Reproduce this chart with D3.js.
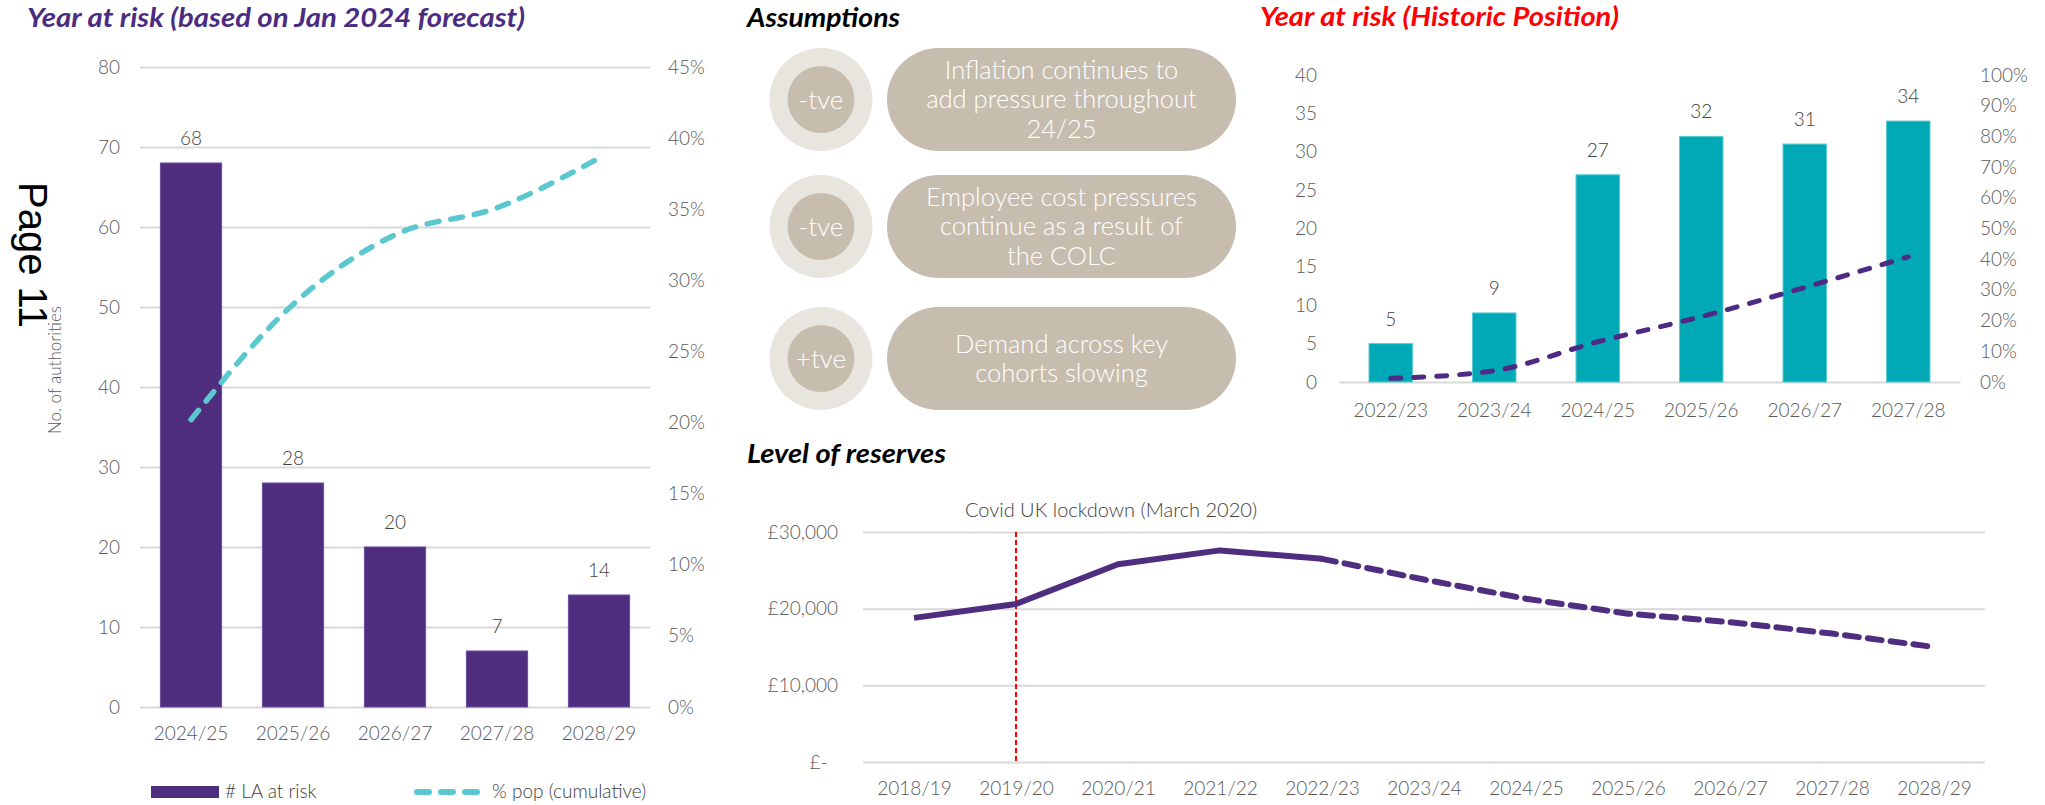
<!DOCTYPE html>
<html>
<head>
<meta charset="utf-8">
<script src="https://cdn.jsdelivr.net/npm/d3@7"></script>
<style>
  body { margin: 0; background: #fff; }
  text { font-family: Lato, "Open Sans", sans-serif; }
  .title { font-weight: 700; font-style: italic; font-size: 27px; }
  .tick text { font-size: 19px; fill: #595959; font-weight: 300; }
  .lbl { font-size: 19px; fill: #404040; font-weight: 300; }
</style>
</head>
<body>
<svg id="chart" width="2045" height="805"></svg>
<script>
// Year at risk (Jan 2024 forecast)
var years1 = ["2024/25", "2025/26", "2026/27", "2027/28", "2028/29"];
var laAtRisk = [68, 28, 20, 7, 14];
var popCumulative = [0.202, 0.283, 0.332, 0.351, 0.386];
var ticks1 = [0, 10, 20, 30, 40, 50, 60, 70, 80];
var ticks1r = [0, 0.05, 0.10, 0.15, 0.20, 0.25, 0.30, 0.35, 0.40, 0.45];

// Year at risk (historic position)
var years3 = ["2022/23", "2023/24", "2024/25", "2025/26", "2026/27", "2027/28"];
var histAtRisk = [5, 9, 27, 32, 31, 34];
var histPop = [0.012, 0.037, 0.131, 0.213, 0.308, 0.408];
var ticks3 = [0, 5, 10, 15, 20, 25, 30, 35, 40];
var ticks3r = [0, 0.1, 0.2, 0.3, 0.4, 0.5, 0.6, 0.7, 0.8, 0.9, 1];

// Level of reserves (£m)
var years4 = ["2018/19", "2019/20", "2020/21", "2021/22", "2022/23", "2023/24",
              "2024/25", "2025/26", "2026/27", "2027/28", "2028/29"];
var reservesActual = [18800, 20600, 25800, 27600, 26500];          // 2018/19 - 2022/23
var reservesForecast = [26500, 23800, 21300, 19350, 18250, 16750, 15000]; // 2022/23 - 2028/29
var ticks4 = [0, 10000, 20000, 30000];

// Assumptions
var assumptionSigns = ["-tve", "-tve", "+tve"];
var assumptionTexts = [
  ["Inflation continues to", "add pressure throughout", "24/25"],
  ["Employee cost pressures", "continue as a result of", "the COLC"],
  ["Demand across key", "cohorts slowing"]
];

var svg = d3.select("#chart");
var purple = "#4f2d7f", teal = "#00a9b5", lightTeal = "#5bc8d0";

function styleAxis(g) {
  g.select(".domain").remove();
  g.selectAll(".tick line").attr("stroke", "#d9d9d9").attr("stroke-width", 2);
}

function title(x, y, w, colour, txt) {
  svg.append("text").attr("class", "title").attr("x", x).attr("y", y)
    .attr("textLength", w).attr("lengthAdjust", "spacingAndGlyphs")
    .attr("fill", colour).text(txt);
}

// ---------- chart 1 ----------
var x1 = d3.scaleBand().domain(years1).range([140, 650]).paddingInner(0.4).paddingOuter(0.2);
var y1 = d3.scaleLinear().domain([0, 80]).range([707, 67]);
var y1r = d3.scaleLinear().domain([0, 0.45]).range([707, 67]);

title(27, 27, 498, "#4b2c83", "Year at risk (based on Jan 2024 forecast)");

svg.append("g").attr("transform", "translate(140,0)")
  .call(d3.axisLeft(y1).tickValues(ticks1).tickSize(-510).tickPadding(20))
  .call(styleAxis);
svg.append("g").attr("transform", "translate(650,0)")
  .call(d3.axisRight(y1r).tickValues(ticks1r).tickSize(0).tickPadding(18).tickFormat(d3.format(".0%")))
  .call(styleAxis);
svg.append("g").attr("transform", "translate(0,707)")
  .call(d3.axisBottom(x1).tickSize(0).tickPadding(20))
  .call(styleAxis);

svg.append("g").selectAll("rect").data(laAtRisk).join("rect")
  .attr("x", function (d, i) { return x1(years1[i]); })
  .attr("y", function (d) { return y1(d); })
  .attr("width", x1.bandwidth())
  .attr("height", function (d) { return y1(0) - y1(d); })
  .attr("fill", purple).attr("stroke", "#6a4d9a").attr("stroke-width", 1);

svg.append("g").selectAll("text").data(laAtRisk).join("text")
  .attr("class", "lbl").attr("text-anchor", "middle")
  .attr("x", function (d, i) { return x1(years1[i]) + x1.bandwidth() / 2; })
  .attr("y", function (d) { return y1(d) - 18; })
  .text(function (d) { return d; });

var line1 = d3.line()
  .x(function (d, i) { return x1(years1[i]) + x1.bandwidth() / 2; })
  .y(function (d) { return y1r(d); })
  .curve(d3.curveMonotoneX);
svg.append("path").attr("d", line1(popCumulative))
  .attr("fill", "none").attr("stroke", lightTeal).attr("stroke-width", 5.5)
  .attr("stroke-dasharray", "12,12").attr("stroke-linecap", "round");

// legend
svg.append("rect").attr("x", 151).attr("y", 786).attr("width", 68).attr("height", 12).attr("fill", purple);
svg.append("text").attr("class", "lbl").attr("x", 225).attr("y", 798).attr("fill", "#595959").text("# LA at risk");
svg.append("line").attr("x1", 417).attr("x2", 478).attr("y1", 792).attr("y2", 792)
  .attr("stroke", lightTeal).attr("stroke-width", 6).attr("stroke-linecap", "round").attr("stroke-dasharray", "12,12");
svg.append("text").attr("class", "lbl").attr("x", 492).attr("y", 798).attr("fill", "#595959").text("% pop (cumulative)");

// axis title + page marker
svg.append("text").attr("transform", "translate(61,370) rotate(-90)")
  .attr("text-anchor", "middle").style("font-size", "17px").attr("fill", "#595959")
  .style("font-weight", 300).text("No. of authorities");
svg.append("text").attr("transform", "translate(19,182) rotate(90)")
  .style("font-family", "'Liberation Sans', Arial, sans-serif").style("font-size", "40px")
  .attr("fill", "#000").text("Page 11");

// ---------- assumptions ----------
title(747, 27, 153, "#000", "Assumptions");
var rowY = [99.5, 226.5, 358.5];
var rows = svg.append("g").selectAll("g").data(assumptionSigns).join("g")
  .attr("transform", function (d, i) { return "translate(0," + rowY[i] + ")"; });
rows.append("circle").attr("cx", 821).attr("cy", 0).attr("r", 51.5).attr("fill", "#e8e5df");
rows.append("circle").attr("cx", 821).attr("cy", 0).attr("r", 33.5).attr("fill", "#c7bdae");
rows.append("text").attr("x", 821).attr("y", 0).attr("dy", "0.35em").attr("text-anchor", "middle")
  .style("font-size", "26px").style("font-weight", 300).attr("fill", "#fff").text(function (d) { return d; });
rows.append("rect").attr("x", 887).attr("y", -51.5).attr("width", 349).attr("height", 103)
  .attr("rx", 51.5).attr("fill", "#c7bdae");
rows.append("text").attr("text-anchor", "middle").style("font-size", "25.5px").style("font-weight", 300)
  .attr("fill", "#fff")
  .selectAll("tspan").data(function (d, i) { return assumptionTexts[i]; }).join("tspan")
  .attr("x", 1061.5)
  .attr("y", function (d, j, nodes) { return (j - (nodes.length - 1) / 2) * 29.5; })
  .attr("dy", "0.35em")
  .text(function (d) { return d; });

// ---------- chart 3 ----------
var x3 = d3.scaleBand().domain(years3).range([1339, 1960]).paddingInner(0.58).paddingOuter(0.29);
var y3 = d3.scaleLinear().domain([0, 40]).range([382, 75]);
var y3r = d3.scaleLinear().domain([0, 1]).range([382, 75]);

title(1260, 26, 359, "#ff0000", "Year at risk (Historic Position)");

svg.append("g").attr("transform", "translate(1339,0)")
  .call(d3.axisLeft(y3).tickValues(ticks3).tickSize(0).tickPadding(22))
  .call(styleAxis);
svg.append("g").attr("transform", "translate(1960,0)")
  .call(d3.axisRight(y3r).tickValues(ticks3r).tickSize(0).tickPadding(20).tickFormat(d3.format(".0%")))
  .call(styleAxis);
svg.append("g").attr("transform", "translate(0,382)")
  .call(d3.axisBottom(x3).tickSize(0).tickPadding(22))
  .call(function (g) { g.select(".domain").attr("stroke", "#d9d9d9").attr("stroke-width", 2); });

svg.append("g").selectAll("rect").data(histAtRisk).join("rect")
  .attr("x", function (d, i) { return x3(years3[i]); })
  .attr("y", function (d) { return y3(d); })
  .attr("width", x3.bandwidth())
  .attr("height", function (d) { return y3(0) - y3(d); })
  .attr("fill", teal).attr("stroke", "#5ccad2").attr("stroke-width", 1);

svg.append("g").selectAll("text").data(histAtRisk).join("text")
  .attr("class", "lbl").attr("text-anchor", "middle")
  .attr("x", function (d, i) { return x3(years3[i]) + x3.bandwidth() / 2; })
  .attr("y", function (d) { return y3(d) - 18; })
  .text(function (d) { return d; });

var line3 = d3.line()
  .x(function (d, i) { return x3(years3[i]) + x3.bandwidth() / 2; })
  .y(function (d) { return y3r(d); })
  .curve(d3.curveMonotoneX);
svg.append("path").attr("d", line3(histPop))
  .attr("fill", "none").attr("stroke", "#4e2a84").attr("stroke-width", 5)
  .attr("stroke-dasharray", "10,13").attr("stroke-linecap", "round");

// ---------- chart 4 ----------
var x4 = d3.scalePoint().domain(years4).range([863, 1985]).padding(0.5);
var y4 = d3.scaleLinear().domain([0, 30000]).range([762, 532]);

title(747, 463, 199, "#000", "Level of reserves");

svg.append("g").attr("transform", "translate(863,0)")
  .call(d3.axisLeft(y4).tickValues(ticks4).tickSize(-1122).tickPadding(25)
    .tickFormat(function (v) { return v === 0 ? "£-\u00a0\u00a0" : "£" + d3.format(",")(v); }))
  .call(styleAxis);
svg.append("g").attr("transform", "translate(0,762)")
  .call(d3.axisBottom(x4).tickSize(0).tickPadding(20))
  .call(styleAxis);

// partly hidden axis title
svg.append("clipPath").attr("id", "billClip").append("rect")
  .attr("x", 743).attr("y", 535).attr("width", 8).attr("height", 70);
svg.append("text").attr("clip-path", "url(#billClip)")
  .attr("transform", "translate(758,570) rotate(-90)").attr("text-anchor", "middle")
  .style("font-size", "16px").style("font-weight", 300).attr("fill", "#8c8c8c").text("Billions");

// covid marker
svg.append("line")
  .attr("x1", x4("2019/20")).attr("x2", x4("2019/20"))
  .attr("y1", y4(30000)).attr("y2", y4(0))
  .attr("stroke", "#ff0000").attr("stroke-width", 2).attr("stroke-dasharray", "5,3");
svg.append("text").attr("class", "lbl").attr("text-anchor", "middle")
  .attr("x", x4("2020/21") - 7).attr("y", 517).style("font-size", "20px")
  .text("Covid UK lockdown (March 2020)");

var line4 = d3.line().x(function (d) { return x4(d[0]); }).y(function (d) { return y4(d[1]); });
var actualPts = reservesActual.map(function (v, i) { return [years4[i], v]; });
var forecastPts = reservesForecast.map(function (v, i) { return [years4[i + reservesActual.length - 1], v]; });
svg.append("path").attr("d", line4(actualPts))
  .attr("fill", "none").attr("stroke", purple).attr("stroke-width", 6).attr("stroke-linejoin", "round");
svg.append("path").attr("d", line4(forecastPts))
  .attr("fill", "none").attr("stroke", purple).attr("stroke-width", 6)
  .attr("stroke-dasharray", "14,9").attr("stroke-linecap", "round");
</script>
</body>
</html>
